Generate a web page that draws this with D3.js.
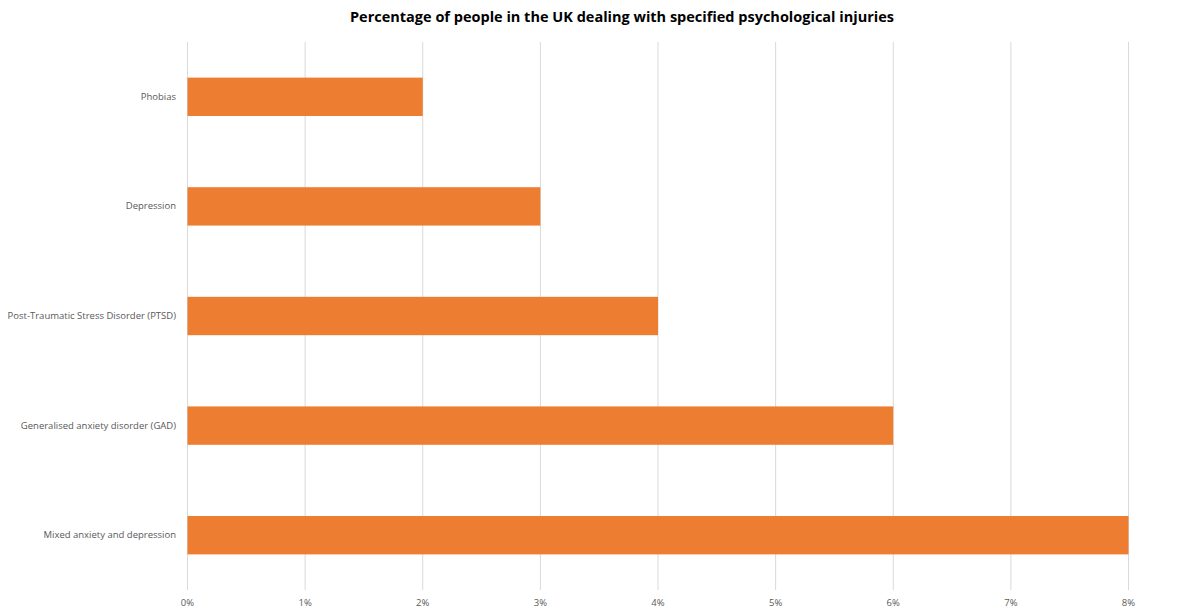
<!DOCTYPE html>
<html>
<head>
<meta charset="utf-8">
<script src="https://cdn.jsdelivr.net/npm/d3@7"></script>
<style>
  body { margin: 0; background: #fff; }
  text { font-family: "Open Sans", "Noto Sans", sans-serif; }
</style>
</head>
<body>
<div id="container"></div>
<script>
/* CONSTANTS AND GLOBALS */
const width = 1200,
  height = 615,
  margin = {top: 42, left: 187, bottom: 25, right: 72};

/* DATA */
const categories = [
  "Phobias",
  "Depression",
  "Post-Traumatic Stress Disorder (PTSD)",
  "Generalised anxiety disorder (GAD)",
  "Mixed anxiety and depression"
];
const values = [2, 3, 4, 6, 8];
const tickValues = [0, 1, 2, 3, 4, 5, 6, 7, 8];
const title = "Percentage of people in the UK dealing with specified psychological injuries";

const data = categories.map((c, i) => ({category: c, value: values[i]}));

// SCALES
const xScale = d3.scaleLinear()
  .domain([0, 8])
  .range([margin.left, width - margin.right]);

const yScale = d3.scaleBand()
  .domain(categories)
  .range([margin.top, height - margin.bottom])
  .paddingInner(0.65)
  .paddingOuter(0.325);

// CREATE SVG ELEMENT
const svg = d3.select("#container")
  .append("svg")
  .attr("width", width)
  .attr("height", height);

// TITLE
svg.append("text")
  .attr("x", 622)
  .attr("y", 22)
  .attr("text-anchor", "middle")
  .attr("font-size", 14.5)
  .attr("font-weight", "bold")
  .attr("fill", "#000")
  .text(title);

// GRIDLINES
svg.append("g")
  .selectAll("line")
  .data(tickValues)
  .join("line")
  .attr("x1", d => xScale(d) + 0.5)
  .attr("x2", d => xScale(d) + 0.5)
  .attr("y1", margin.top)
  .attr("y2", height - margin.bottom)
  .attr("stroke", "#d9d9d9")
  .attr("stroke-width", 1);

// BARS
svg.append("g")
  .selectAll("rect")
  .data(data)
  .join("rect")
  .attr("x", xScale(0) + 0.5)
  .attr("y", d => yScale(d.category))
  .attr("width", d => xScale(d.value) - xScale(0))
  .attr("height", yScale.bandwidth())
  .attr("fill", "#ed7d31");

// AXES
const xAxis = d3.axisBottom(xScale)
  .tickValues(tickValues)
  .tickFormat(d => d + "%")
  .tickSize(0)
  .tickPadding(9);

const yAxis = d3.axisLeft(yScale)
  .tickSize(0)
  .tickPadding(11);

const gx = svg.append("g")
  .attr("transform", `translate(0, ${height - margin.bottom})`)
  .call(xAxis);
gx.select(".domain").remove();
gx.selectAll("text")
  .attr("font-size", 9.5)
  .attr("fill", "#595959")
  .style("font-family", "\"Open Sans\", sans-serif");

const gy = svg.append("g")
  .attr("transform", `translate(${margin.left}, 0)`)
  .call(yAxis);
gy.select(".domain").remove();
gy.selectAll("text")
  .attr("font-size", 9.5)
  .attr("fill", "#595959")
  .style("font-family", "\"Open Sans\", sans-serif");
</script>
</body>
</html>
